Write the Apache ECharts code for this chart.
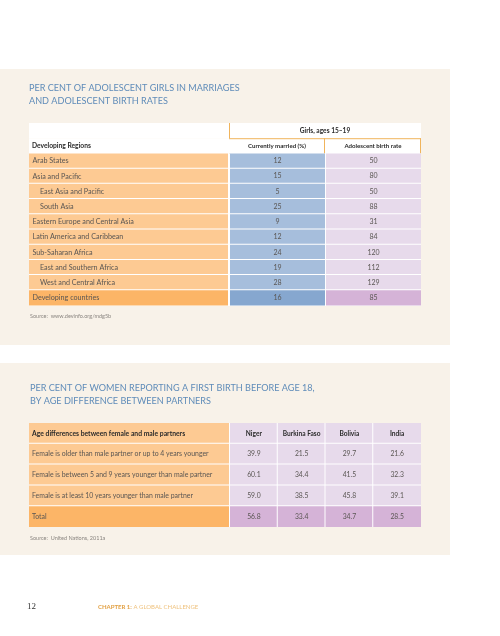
<!DOCTYPE html>
<html><head><meta charset="utf-8">
<script src="https://cdn.jsdelivr.net/npm/echarts@6/dist/echarts.min.js"></script>
<style>html,body{margin:0;padding:0;background:#fff}#c{width:500px;height:636px}</style>
</head><body><div id="c"></div>
<script>
// ---------- Table 1 data ----------
const t1Title = 'PER CENT OF ADOLESCENT GIRLS IN MARRIAGES\nAND ADOLESCENT BIRTH RATES';
const t1RowHeader = 'Developing Regions';
const t1GroupHeader = 'Girls, ages 15–19';
const t1Columns = ['Currently married (%)', 'Adolescent birth rate'];
const regions = ['Arab States', 'Asia and Pacific', 'East Asia and Pacific', 'South Asia',
  'Eastern Europe and Central Asia', 'Latin America and Caribbean', 'Sub-Saharan Africa',
  'East and Southern Africa', 'West and Central Africa', 'Developing countries'];
const regionIndented = [false, false, true, true, false, false, false, true, true, false];
const currentlyMarried = [12, 15, 5, 25, 9, 12, 24, 19, 28, 16];
const adolescentBirthRate = [50, 80, 50, 88, 31, 84, 120, 112, 129, 85];
const t1Source = 'Source:  www.devinfo.org/mdg5b';

// ---------- Table 2 data ----------
const t2Title = 'PER CENT OF WOMEN REPORTING A FIRST BIRTH BEFORE AGE 18,\nBY AGE DIFFERENCE BETWEEN PARTNERS';
const t2RowHeader = 'Age differences between female and male partners';
const ageDifferences = ['Female is older than male partner or up to 4 years younger',
  'Female is between 5 and 9 years younger than male partner',
  'Female is at least 10 years younger than male partner', 'Total'];
const countries = ['Niger', 'Burkina Faso', 'Bolivia', 'India'];
const niger = [39.9, 60.1, 59.0, 56.8];
const burkinaFaso = [21.5, 34.4, 38.5, 33.4];
const bolivia = [29.7, 41.5, 45.8, 34.7];
const india = [21.6, 32.3, 39.1, 28.5];
const t2Source = 'Source:  United Nations, 2011a';

const pageNumber = '12';
const chapterBold = 'CHAPTER 1:';
const chapterRest = ' A GLOBAL CHALLENGE';

// ---------- styles ----------
const FONT = 'Lato, "Open Sans", sans-serif';
const PANEL = '#f8f2e9';
const ORANGE = '#fdca93', ORANGE_DARK = '#fcb567';
const BLUE = '#a6bedc', BLUE_DARK = '#86a7cf';
const PURPLE = '#e7daeb', PURPLE_DARK = '#d5b3d7';
const GOLD = '#f0b45c';
const TXT = '#5a5653', HEAD = '#2b2b2b';

const chart = echarts.init(document.getElementById('c'), null, {renderer: 'canvas'});

function cell(api, col, row) {
  const p = api.coord([col, row]);
  const s = api.size([1, 1]);
  return {x: p[0] - s[0] / 2, y: p[1] - s[1] / 2, w: s[0], h: s[1]};
}
function txt(text, x, y, opt) {
  return {type: 'text', style: Object.assign({text: text, x: x, y: y, fill: TXT, fontSize: 7,
    fontFamily: FONT, align: 'left', verticalAlign: 'middle'}, opt || {})};
}
function rect(c, fill, insetR, insetB) {
  return {type: 'rect', shape: {x: c.x, y: c.y, width: c.w - (insetR || 0), height: c.h - (insetB || 0)},
    style: {fill: fill}};
}
function line(x1, y1, x2, y2, color) {
  return {type: 'line', shape: {x1: x1, y1: y1, x2: x2, y2: y2}, style: {stroke: color, lineWidth: 1}};
}

const t1Rows = ['h0', 'h1'].concat(regions);
const t2Rows = ['h'].concat(ageDifferences);

const t1LabelData = t1Rows.map((r, i) => [0, i]);
const t1HeaderData = [[0, 0], [0, 1], [1, 1]];
const t1ValueData = [];
regions.forEach((r, i) => {
  t1ValueData.push([0, i + 2, currentlyMarried[i]]);
  t1ValueData.push([1, i + 2, adolescentBirthRate[i]]);
});
const t2LabelData = t2Rows.map((r, i) => [0, i]);
const t2Series = [niger, burkinaFaso, bolivia, india];
const t2ValueData = [];
countries.forEach((c, j) => t2ValueData.push([j, 0, 0]));
ageDifferences.forEach((a, i) => {
  t2Series.forEach((arr, j) => t2ValueData.push([j, i + 1, arr[i]]));
});

function catAxis(data, gridIndex, inverse) {
  return {type: 'category', data: data, gridIndex: gridIndex, show: false, inverse: !!inverse};
}

const option = {
  animation: false,
  backgroundColor: '#ffffff',
  title: [
    {text: t1Title, left: 29, top: 82, textStyle: {fontFamily: FONT, fontSize: 9.1, fontWeight: 'normal', color: '#5f8cb9', lineHeight: 13}, padding: 0},
    {text: t2Title, left: 30, top: 382, textStyle: {fontFamily: FONT, fontSize: 9.1, fontWeight: 'normal', color: '#5f8cb9', lineHeight: 13}, padding: 0}
  ],
  graphic: [
    {type: 'rect', shape: {x: 0, y: 69, width: 450, height: 276}, style: {fill: PANEL}, z: 0},
    {type: 'rect', shape: {x: 0, y: 363, width: 450, height: 192}, style: {fill: PANEL}, z: 0},
    {type: 'rect', shape: {x: 29, y: 153, width: 392, height: 153}, style: {fill: '#ffffff'}, z: 1},
    {type: 'rect', shape: {x: 29, y: 423, width: 392, height: 104}, style: {fill: '#ffffff'}, z: 1},
    {type: 'text', x: 30, y: 316, style: {text: t1Source, fill: '#8a8580', fontSize: 5.5, fontFamily: FONT, verticalAlign: 'middle'}, z: 3},
    {type: 'text', x: 30, y: 538, style: {text: t2Source, fill: '#8a8580', fontSize: 5.5, fontFamily: FONT, verticalAlign: 'middle'}, z: 3},
    {type: 'text', x: 27, y: 607, style: {text: pageNumber, fill: '#333', fontSize: 9, fontFamily: '"Liberation Serif", "DejaVu Serif", serif', verticalAlign: 'middle'}, z: 3},
    {type: 'text', x: 98, y: 607, style: {
      text: '{b|' + chapterBold + '}{r|' + chapterRest + '}', verticalAlign: 'middle',
      rich: {
        b: {fill: '#e2a043', fontSize: 6, fontWeight: 'bold', fontFamily: FONT},
        r: {fill: '#efc27e', fontSize: 6, fontFamily: FONT}
      }}, z: 3}
  ],
  grid: [
    {left: 29, top: 123, width: 200, height: 182.5},
    {left: 229, top: 123, width: 192, height: 182.5},
    {left: 29, top: 423, width: 201, height: 104},
    {left: 230, top: 423, width: 191, height: 104}
  ],
  xAxis: [
    catAxis(['label'], 0), catAxis(t1Columns, 1),
    catAxis(['label'], 2), catAxis(countries, 3)
  ],
  yAxis: [
    catAxis(t1Rows, 0, true), catAxis(t1Rows, 1, true),
    catAxis(t2Rows, 2, true), catAxis(t2Rows, 3, true)
  ],
  series: [
    { // table 1 label column
      type: 'custom', xAxisIndex: 0, yAxisIndex: 0, data: t1LabelData, z: 2,
      renderItem: function (params, api) {
        const row = api.value(1);
        const c = cell(api, 0, row);
        if (row < 2) {
          const ch = [rect(c, '#ffffff')];
          if (row === 1) ch.push(txt(t1RowHeader, c.x + 3, c.y + c.h / 2, {fill: HEAD, fontWeight: 'bold', fontSize: 6.7}));
          return {type: 'group', children: ch};
        }
        const i = row - 2;
        const last = i === regions.length - 1;
        return {type: 'group', children: [
          rect(c, last ? ORANGE_DARK : ORANGE, 1, last ? 0 : 1),
          txt(regions[i], c.x + (regionIndented[i] ? 11 : 3.5), c.y + c.h / 2, {fontSize: 7.2})
        ]};
      }
    },
    { // table 1 header cells
      type: 'custom', xAxisIndex: 1, yAxisIndex: 1, data: t1HeaderData, z: 2,
      renderItem: function (params, api) {
        const col = api.value(0), row = api.value(1);
        const c = cell(api, col, row);
        if (row === 0) {
          const w = c.w * t1Columns.length;
          return {type: 'group', children: [
            {type: 'rect', shape: {x: c.x, y: c.y, width: w, height: c.h}, style: {fill: '#ffffff'}},
            line(c.x + 0.5, c.y, c.x + 0.5, c.y + c.h * 2, GOLD),
            txt(t1GroupHeader, c.x + w / 2, c.y + c.h / 2, {align: 'center', fill: HEAD, fontWeight: 'bold', fontSize: 6.6})
          ]};
        }
        return {type: 'group', children: [
          rect(c, '#ffffff'),
          line(c.x, c.y + 0.5, c.x + c.w, c.y + 0.5, GOLD),
          line(c.x + c.w - 0.5, c.y, c.x + c.w - 0.5, c.y + c.h, GOLD),
          txt(t1Columns[col], c.x + c.w / 2, c.y + c.h / 2, {align: 'center', fill: HEAD, fontWeight: 'bold', fontSize: 6.1})
        ]};
      }
    },
    { // table 1 values
      type: 'custom', xAxisIndex: 1, yAxisIndex: 1, data: t1ValueData, z: 2,
      renderItem: function (params, api) {
        const col = api.value(0), row = api.value(1), v = api.value(2);
        const c = cell(api, col, row);
        const last = row === t1Rows.length - 1;
        const fill = col === 0 ? (last ? BLUE_DARK : BLUE) : (last ? PURPLE_DARK : PURPLE);
        return {type: 'group', children: [
          {type: 'rect', shape: {x: c.x + 1, y: c.y, width: c.w - 1, height: c.h - (last ? 0 : 1)}, style: {fill: fill}},
          txt(String(v), c.x + c.w / 2 + 0.5, c.y + c.h / 2, {align: 'center', fontSize: 7})
        ]};
      }
    },
    { // table 2 label column
      type: 'custom', xAxisIndex: 2, yAxisIndex: 2, data: t2LabelData, z: 2,
      renderItem: function (params, api) {
        const row = api.value(1);
        const c = cell(api, 0, row);
        if (row === 0) {
          return {type: 'group', children: [
            rect(c, ORANGE, 1, 1),
            txt(t2RowHeader, c.x + 3, c.y + c.h / 2, {fill: HEAD, fontWeight: 'bold', fontSize: 6.8})
          ]};
        }
        const i = row - 1;
        const last = i === ageDifferences.length - 1;
        return {type: 'group', children: [
          rect(c, last ? ORANGE_DARK : ORANGE, 1, last ? 0 : 1),
          txt(ageDifferences[i], c.x + 3, c.y + c.h / 2, {fontSize: 6.9})
        ]};
      }
    },
    { // table 2 values and column headers
      type: 'custom', xAxisIndex: 3, yAxisIndex: 3, data: t2ValueData, z: 2,
      renderItem: function (params, api) {
        const col = api.value(0), row = api.value(1), v = api.value(2);
        const c = cell(api, col, row);
        const last = row === t2Rows.length - 1;
        const lastCol = col === countries.length - 1;
        const ch = [rect(c, last ? PURPLE_DARK : PURPLE, lastCol ? 0 : 1, last ? 0 : 1)];
        if (row === 0) {
          ch.push(txt(countries[col], c.x + c.w / 2, c.y + c.h / 2, {align: 'center', fill: HEAD, fontWeight: 'bold', fontSize: 6.6}));
        } else {
          ch.push(txt(v.toFixed(1), c.x + c.w / 2, c.y + c.h / 2, {align: 'center', fontSize: 6.8}));
        }
        return {type: 'group', children: ch};
      }
    }
  ]
};
chart.setOption(option);
</script>
</body></html>
